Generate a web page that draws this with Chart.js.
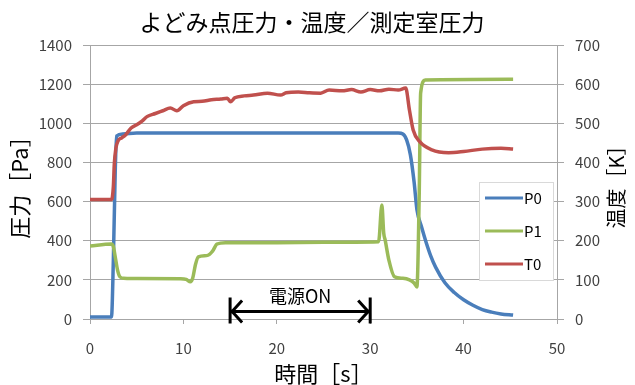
<!DOCTYPE html>
<html>
<head>
<meta charset="utf-8">
<script src="https://cdn.jsdelivr.net/npm/chart.js@4"></script>
<style>
  body { margin: 0; background: #fff; }
  #wrap { width: 635px; height: 385px; }
</style>
</head>
<body>
<div id="wrap"><canvas id="chart" width="635" height="385"></canvas></div>
<script>
// よどみ点圧力 P0 [Pa]
const p0Time = [0, 2.3, 2.5, 2.7, 2.85, 3.5, 5, 10, 20, 33, 33.5, 33.9, 34.3, 34.7, 35, 35.5, 36, 36.5, 37, 38, 39, 40, 41, 42, 43, 44, 45.3];
const p0Vals = [10, 10, 300, 750, 935, 945, 950, 950, 950, 950, 945, 915, 840, 700, 560, 470, 390, 320, 265, 185, 135, 98, 70, 48, 35, 26, 20];

// 測定室圧力 P1 [Pa]
const p1Time = [0, 2.3, 2.5, 2.7, 2.95, 3.2, 3.6, 4.5, 9.7, 10.3, 10.75, 11.0, 11.3, 11.6, 12.6, 13.1, 13.6, 14.5, 20, 25, 30.9, 31.25, 31.45, 31.6, 32.0, 32.6, 33.5, 34.2, 34.7, 35.0, 35.25, 35.4, 35.9, 45.3];
const p1Vals = [373, 383, 370, 318, 250, 216, 208, 207, 206, 202, 190, 210, 280, 318, 325, 345, 383, 390, 390, 392, 395, 582, 438, 404, 301, 216, 208, 200, 184, 164, 642, 1155, 1221, 1225];

// よどみ点温度 T0 [K]
const t0Time = [0, 2.3, 2.5, 2.6, 2.77, 3.0, 3.4, 3.8, 4.4, 5.0, 5.6, 6.1, 7.0, 7.8, 8.6, 9.3, 10.0, 11.1, 12.0, 13.0, 14.0, 14.7, 15.05, 15.5, 16.5, 17.5, 19.0, 20.4, 21.0, 22.3, 23.5, 24.7, 25.6, 27, 28, 29, 30, 31, 32, 33, 33.8, 34.2, 34.6, 35.3, 36.6, 38.4, 40, 42, 44, 45.3];
const t0Vals = [305, 305, 338, 395, 436, 455, 463, 470, 488, 496, 506, 517, 525, 532, 539, 532, 545, 555, 556, 560, 562, 564, 555, 565, 570, 572, 577, 572, 578, 580, 578, 577, 585, 583, 586, 580, 586, 583, 587, 585, 590, 534, 483, 453, 432, 425, 428, 434, 436, 434];

const pressureTicks = [0, 200, 400, 600, 800, 1000, 1200, 1400];
const tempTicks = [0, 100, 200, 300, 400, 500, 600, 700];
const timeTicks = [0, 10, 20, 30, 40, 50];

// 電源ON の区間
const powerOn = [15, 30];
const powerOnLevel = 38;

const FONT = '"Noto Sans CJK JP", "Noto Sans", sans-serif';

function toPoints(xs, ys) {
    return xs.map((x, i) => ({ x: x, y: ys[i] }));
}

const overlay = {
    id: 'overlay',
    afterDraw(chart) {
        const ctx = chart.ctx;
        const xs = chart.scales.x;
        const yp = chart.scales.y;

        // title
        ctx.save();
        ctx.fillStyle = '#000';
        ctx.font = '23px ' + FONT;
        ctx.textAlign = 'center';
        ctx.textBaseline = 'middle';
        ctx.fillText('よどみ点圧力・温度／測定室圧力', 312, 22);

        // right axis title (rotated like the left one)
        ctx.translate(616, 182);
        ctx.rotate(-Math.PI / 2);
        ctx.font = '20px ' + FONT;
        ctx.fillText('温度［K］', 0, 0);
        ctx.restore();

        // 電源ON arrow
        const x1 = xs.getPixelForValue(powerOn[0]);
        const x2 = xs.getPixelForValue(powerOn[1]);
        const y = yp.getPixelForValue(powerOnLevel);
        ctx.save();
        ctx.strokeStyle = '#000';
        ctx.lineWidth = 3;
        ctx.beginPath();
        ctx.moveTo(x1, y); ctx.lineTo(x2, y);
        ctx.moveTo(x1, y - 14); ctx.lineTo(x1, y + 12);
        ctx.moveTo(x2, y - 14); ctx.lineTo(x2, y + 12);
        ctx.moveTo(x1 + 12, y - 11); ctx.lineTo(x1 + 2, y); ctx.lineTo(x1 + 12, y + 11);
        ctx.moveTo(x2 - 12, y - 11); ctx.lineTo(x2 - 2, y); ctx.lineTo(x2 - 12, y + 11);
        ctx.stroke();
        ctx.fillStyle = '#000';
        ctx.font = '18px ' + FONT;
        ctx.textAlign = 'center';
        ctx.textBaseline = 'middle';
        ctx.fillText('電源ON', (x1 + x2) / 2, y - 15);
        ctx.restore();

        // legend box
        ctx.save();
        ctx.fillStyle = '#fff';
        ctx.fillRect(479, 182, 74, 98);
        ctx.strokeStyle = '#d9d9d9';
        ctx.lineWidth = 1;
        ctx.strokeRect(479.5, 182.5, 74, 98);
        ctx.font = '15px ' + FONT;
        ctx.textAlign = 'left';
        ctx.textBaseline = 'middle';
        chart.data.datasets.forEach((ds, i) => {
            const ly = 198 + i * 33;
            ctx.strokeStyle = ds.borderColor;
            ctx.lineWidth = 3;
            ctx.beginPath();
            ctx.moveTo(485, ly); ctx.lineTo(523, ly);
            ctx.stroke();
            ctx.fillStyle = '#000';
            ctx.fillText(ds.label, 524, ly);
        });
        ctx.restore();
    }
};

const plain = (v) => String(v);

const ctx = document.getElementById('chart').getContext('2d');
new Chart(ctx, {
    type: 'line',
    data: {
        datasets: [
            { label: 'P0', data: toPoints(p0Time, p0Vals), borderColor: '#4a7ebb', yAxisID: 'y', order: 2 },
            { label: 'P1', data: toPoints(p1Time, p1Vals), borderColor: '#9bbb59', yAxisID: 'y', order: 1 },
            { label: 'T0', data: toPoints(t0Time, t0Vals), borderColor: '#c0504d', yAxisID: 'y2', order: 0 }
        ]
    },
    options: {
        responsive: false,
        animation: false,
        layout: { padding: { top: 45, left: 0, right: 0, bottom: 0 } },
        elements: {
            point: { radius: 0 },
            line: { borderWidth: 3.5, cubicInterpolationMode: 'monotone', fill: false }
        },
        plugins: {
            legend: { display: false },
            tooltip: { enabled: false }
        },
        scales: {
            x: {
                type: 'linear',
                min: 0,
                max: 50,
                afterFit: (scale) => { scale.height = 66; },
                afterBuildTicks: (scale) => { scale.ticks = timeTicks.map(v => ({ value: v })); },
                grid: { drawOnChartArea: false, color: '#a6a6a6', tickLength: 5 },
                border: { color: '#a6a6a6' },
                ticks: { padding: 15, color: '#404040', font: { family: FONT, size: 15 }, callback: plain },
                title: {
                    display: true,
                    text: '時間［s］',
                    color: '#000',
                    font: { family: FONT, size: 22, lineHeight: 1 },
                    padding: { top: 0, bottom: 0 }
                }
            },
            y: {
                position: 'left',
                min: 0,
                max: 1400,
                afterFit: (scale) => { scale.width = 90; },
                afterBuildTicks: (scale) => { scale.ticks = pressureTicks.map(v => ({ value: v })); },
                grid: { color: '#a6a6a6', tickLength: 7 },
                border: { color: '#a6a6a6' },
                ticks: { padding: 11, color: '#404040', font: { family: FONT, size: 15 }, callback: plain },
                title: {
                    display: true,
                    text: '圧力［Pa］',
                    color: '#000',
                    font: { family: FONT, size: 22, lineHeight: 1 },
                    padding: { top: 9, bottom: 0 }
                }
            },
            y2: {
                position: 'right',
                min: 0,
                max: 700,
                afterFit: (scale) => { scale.width = 78; },
                afterBuildTicks: (scale) => { scale.ticks = tempTicks.map(v => ({ value: v })); },
                grid: { drawOnChartArea: false, color: '#a6a6a6', tickLength: 7 },
                border: { color: '#a6a6a6' },
                ticks: { padding: 11, color: '#404040', font: { family: FONT, size: 15 }, callback: plain }
            }
        }
    },
    plugins: [overlay]
});
</script>
</body>
</html>
